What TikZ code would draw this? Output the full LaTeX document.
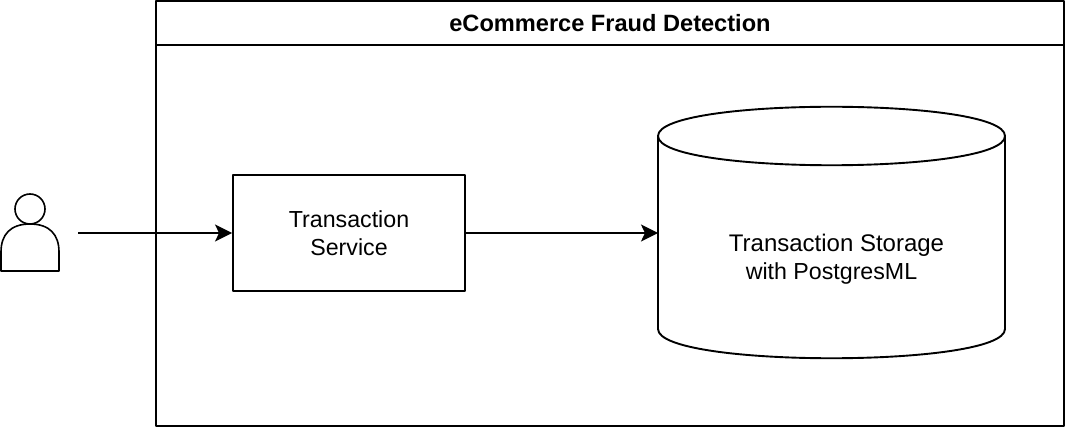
\documentclass[tikz,border=0pt]{standalone}
\usepackage{fontspec}
\setmainfont{Liberation Sans}
\usetikzlibrary{arrows.meta}
\newcommand{\slimtext}{\fontsize{23.2}{28}\selectfont}
\tikzset{
  outline/.style={draw=black,line width=1.9pt,line join=round},
  box/.style={outline,fill=white,minimum width=232pt,minimum height=116pt,inner sep=0pt,align=center,font=\slimtext},
  label/.style={inner sep=0pt,align=center,font=\fontsize{24}{28}\selectfont},
  titletext/.style={inner sep=0pt,font=\bfseries\fontsize{23.6}{26}\selectfont},
  ghost/.style={inner sep=0pt,outer sep=0pt},
  flow/.style={line width=1.9pt,-{Stealth[length=17pt,width=17pt,inset=4pt]}}
}
\begin{document}
\begin{tikzpicture}[x=1pt,y=-1pt]
\useasboundingbox (0,0) rectangle (1065,427);
\fill[white] (0,0) rectangle (1065,427);
% frame
\draw[outline] (156,1) rectangle (1064,426);
\draw[outline] (156,45) -- (1064,45);
\node[titletext] (title) at (610,23.5) {eCommerce Fraud Detection};
% user
\node[ghost,minimum width=58pt,minimum height=78pt] (user) at (30,233) {};
\draw[outline,line width=1.6pt] (30,209) circle (15pt);
\draw[outline,line width=1.6pt] (1,271) -- (1,252)
  .. controls (1,235) and (10,224) .. (30,224)
  .. controls (50,224) and (59,235) .. (59,252) -- (59,271) -- cycle;
% service
\node[box] (svc) at (349,233) {Transaction\\Service};
% storage
\draw[outline] (658,136) .. controls (658,97) and (1005,97) .. (1005,136)
  -- (1005,329) .. controls (1005,368) and (658,368) .. (658,329) -- cycle;
\draw[outline] (658,136) .. controls (658,175) and (1005,175) .. (1005,136);
\node[ghost,minimum width=347pt,minimum height=251pt] (store) at (831.5,233) {};
\node[label] (storetext) at (831.5,259.5) {\hspace*{10pt}Transaction Storage\\{\slimtext with PostgresML}};
% connectors
\draw[flow,shorten <=19pt] (user.east) -- (svc.west);
\draw[flow] (svc.east) -- (store.west);
\end{tikzpicture}
\end{document}
